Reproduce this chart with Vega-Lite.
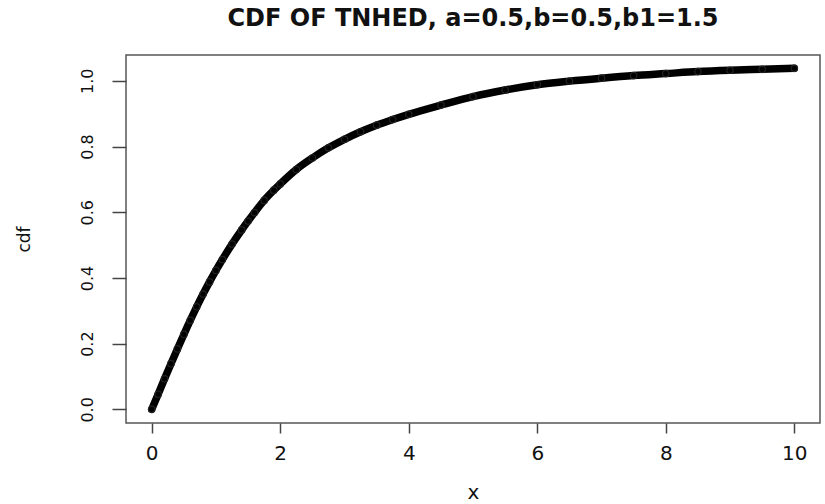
{
  "$schema": "https://vega.github.io/schema/vega-lite/v6.json",
  "width": 694,
  "height": 368,
  "autosize": {"type": "none"},
  "padding": {"left": 126, "top": 55, "right": 5, "bottom": 81},
  "background": "white",
  "title": {
    "text": "CDF OF TNHED, a=0.5,b=0.5,b1=1.5",
    "font": "DejaVu Sans",
    "fontWeight": "bold",
    "fontSize": 24,
    "color": "#111",
    "anchor": "middle",
    "baseline": "bottom",
    "offset": 24,
    "dy": 24
  },
  "config": {
    "view": {"stroke": "#555", "strokeWidth": 1.5}
  },
  "data": {
    "values": [
      {"x": 0, "cdf": 0},
      {"x": 0.1, "cdf": 0.046},
      {"x": 0.2, "cdf": 0.093},
      {"x": 0.3, "cdf": 0.139},
      {"x": 0.4, "cdf": 0.184},
      {"x": 0.5, "cdf": 0.228},
      {"x": 0.6, "cdf": 0.271},
      {"x": 0.7, "cdf": 0.312},
      {"x": 0.8, "cdf": 0.351},
      {"x": 0.9, "cdf": 0.388},
      {"x": 1.0, "cdf": 0.423},
      {"x": 1.1, "cdf": 0.456},
      {"x": 1.25, "cdf": 0.503},
      {"x": 1.4, "cdf": 0.546},
      {"x": 1.5, "cdf": 0.573},
      {"x": 1.6, "cdf": 0.599},
      {"x": 1.75, "cdf": 0.636},
      {"x": 1.9, "cdf": 0.667},
      {"x": 2.0, "cdf": 0.686},
      {"x": 2.25, "cdf": 0.73},
      {"x": 2.5, "cdf": 0.765},
      {"x": 2.75, "cdf": 0.796},
      {"x": 3.0, "cdf": 0.822},
      {"x": 3.25, "cdf": 0.845},
      {"x": 3.5, "cdf": 0.865},
      {"x": 3.75, "cdf": 0.882},
      {"x": 4.0, "cdf": 0.898},
      {"x": 4.5, "cdf": 0.926},
      {"x": 5.0, "cdf": 0.952},
      {"x": 5.5, "cdf": 0.972},
      {"x": 6.0, "cdf": 0.988},
      {"x": 6.5, "cdf": 0.999},
      {"x": 7.0, "cdf": 1.008},
      {"x": 7.5, "cdf": 1.016},
      {"x": 8.0, "cdf": 1.022},
      {"x": 8.5, "cdf": 1.028},
      {"x": 9.0, "cdf": 1.032},
      {"x": 9.5, "cdf": 1.035},
      {"x": 10.0, "cdf": 1.038}
    ]
  },
  "encoding": {
    "x": {
      "field": "x",
      "type": "quantitative",
      "scale": {"domain": [-0.4, 10.4], "nice": false, "zero": false},
      "axis": {
        "values": [0, 2, 4, 6, 8, 10],
        "format": "d",
        "grid": false,
        "domain": false,
        "tickSize": 10,
        "tickColor": "#444",
        "tickWidth": 1.5,
        "labelFont": "DejaVu Sans",
        "labelFontSize": 20,
        "labelColor": "#111",
        "labelBaseline": "top",
        "labelPadding": 10,
        "title": "x",
        "titleFont": "DejaVu Sans",
        "titleFontSize": 20,
        "titleFontWeight": "normal",
        "titleColor": "#111",
        "titleX": 347,
        "titleY": 69,
        "titleBaseline": "middle",
        "titleAlign": "center"
      }
    },
    "y": {
      "field": "cdf",
      "type": "quantitative",
      "scale": {"domain": [-0.0415, 1.0785], "nice": false, "zero": false},
      "axis": {
        "values": [0, 0.2, 0.4, 0.6, 0.8, 1.0],
        "format": ".1f",
        "grid": false,
        "domain": false,
        "tickSize": 14,
        "tickColor": "#444",
        "tickWidth": 1.5,
        "labelFont": "DejaVu Sans",
        "labelFontSize": 16,
        "labelColor": "#111",
        "labelAngle": -90,
        "labelAlign": "center",
        "labelBaseline": "bottom",
        "labelPadding": 17,
        "title": "cdf",
        "titleFont": "DejaVu Sans",
        "titleFontSize": 17,
        "titleFontWeight": "normal",
        "titleColor": "#111",
        "titleAngle": -90,
        "titleX": -102,
        "titleY": 184,
        "titleBaseline": "middle",
        "titleAlign": "center"
      }
    }
  },
  "layer": [
    {
      "mark": {"type": "line", "color": "black", "strokeWidth": 7.5, "strokeCap": "round", "strokeJoin": "round", "interpolate": "monotone"}
    },
    {
      "mark": {"type": "point", "shape": "circle", "filled": false, "size": 42, "stroke": "#222", "strokeWidth": 1.2, "opacity": 1}
    }
  ]
}
